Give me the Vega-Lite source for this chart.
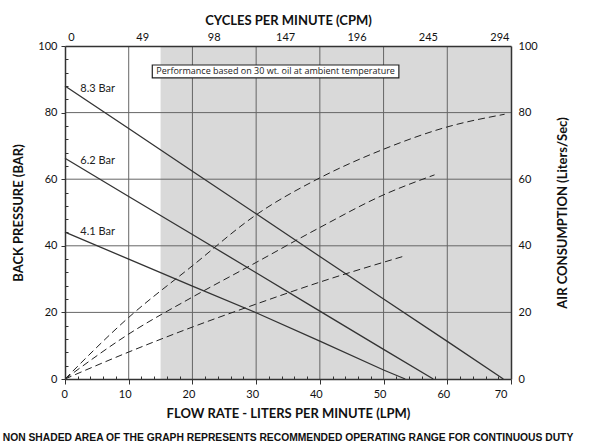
{
  "$schema": "https://vega.github.io/schema/vega-lite/v6.json",
  "width": 446,
  "height": 333,
  "autosize": "none",
  "padding": {"left": 65, "top": 46, "right": 85, "bottom": 65},
  "background": "white",
  "config": {"view": {"stroke": null}, "font": "Lato"},
  "title": {
    "text": "NON SHADED AREA OF THE GRAPH REPRESENTS RECOMMENDED OPERATING RANGE FOR CONTINUOUS DUTY",
    "orient": "bottom",
    "anchor": "middle",
    "font": "Liberation Sans",
    "fontSize": 10.3,
    "fontWeight": "bold",
    "color": "#111",
    "offset": 13
  },
  "datasets": {
    "pressure": [
      {"series": "8.3 Bar", "lpm": 0, "bp": 88.0},
      {"series": "8.3 Bar", "lpm": 10, "bp": 75.2},
      {"series": "8.3 Bar", "lpm": 20, "bp": 62.4},
      {"series": "8.3 Bar", "lpm": 30, "bp": 49.6},
      {"series": "8.3 Bar", "lpm": 40, "bp": 36.8},
      {"series": "8.3 Bar", "lpm": 50, "bp": 24.0},
      {"series": "8.3 Bar", "lpm": 60, "bp": 11.3},
      {"series": "8.3 Bar", "lpm": 68.8, "bp": 0},
      {"series": "6.2 Bar", "lpm": 0, "bp": 66.3},
      {"series": "6.2 Bar", "lpm": 10, "bp": 54.8},
      {"series": "6.2 Bar", "lpm": 20, "bp": 43.4},
      {"series": "6.2 Bar", "lpm": 30, "bp": 31.9},
      {"series": "6.2 Bar", "lpm": 40, "bp": 20.4},
      {"series": "6.2 Bar", "lpm": 50, "bp": 8.9},
      {"series": "6.2 Bar", "lpm": 57.8, "bp": 0},
      {"series": "4.1 Bar", "lpm": 0, "bp": 44.1},
      {"series": "4.1 Bar", "lpm": 10, "bp": 36.0},
      {"series": "4.1 Bar", "lpm": 20, "bp": 27.9},
      {"series": "4.1 Bar", "lpm": 30, "bp": 19.9},
      {"series": "4.1 Bar", "lpm": 40, "bp": 11.4},
      {"series": "4.1 Bar", "lpm": 50, "bp": 2.7},
      {"series": "4.1 Bar", "lpm": 53.4, "bp": 0}
    ],
    "air": [
      {"series": "8.3 Bar", "lpm": 0, "air": 0},
      {"series": "8.3 Bar", "lpm": 10, "air": 18.5},
      {"series": "8.3 Bar", "lpm": 20, "air": 34.0},
      {"series": "8.3 Bar", "lpm": 30, "air": 49.3},
      {"series": "8.3 Bar", "lpm": 40, "air": 60.4},
      {"series": "8.3 Bar", "lpm": 50, "air": 69.0},
      {"series": "8.3 Bar", "lpm": 60, "air": 75.7},
      {"series": "8.3 Bar", "lpm": 69, "air": 79.5},
      {"series": "6.2 Bar", "lpm": 0, "air": 0},
      {"series": "6.2 Bar", "lpm": 10, "air": 13.5},
      {"series": "6.2 Bar", "lpm": 20, "air": 24.6},
      {"series": "6.2 Bar", "lpm": 30, "air": 35.0},
      {"series": "6.2 Bar", "lpm": 40, "air": 45.5},
      {"series": "6.2 Bar", "lpm": 50, "air": 55.3},
      {"series": "6.2 Bar", "lpm": 58, "air": 61.3},
      {"series": "4.1 Bar", "lpm": 0, "air": 0},
      {"series": "4.1 Bar", "lpm": 10, "air": 8.1},
      {"series": "4.1 Bar", "lpm": 20, "air": 15.6},
      {"series": "4.1 Bar", "lpm": 30, "air": 22.5},
      {"series": "4.1 Bar", "lpm": 40, "air": 29.1},
      {"series": "4.1 Bar", "lpm": 53.4, "air": 37.0}
    ],
    "labels": [
      {"label": "8.3 Bar", "lpm": 2.4, "bp": 87.1},
      {"label": "6.2 Bar", "lpm": 2.4, "bp": 65.5},
      {"label": "4.1 Bar", "lpm": 2.4, "bp": 44.1}
    ]
  },
  "layer": [
    {
      "data": {"values": [{"from": 15, "to": 70}]},
      "mark": {"type": "rect", "fill": "#d9d9d9"},
      "encoding": {
        "x": {"field": "from", "type": "quantitative", "scale": {"domain": [0, 70], "nice": false}, "axis": null},
        "x2": {"field": "to"}
      }
    },
    {
      "data": {"values": [{"g": 10}, {"g": 20}, {"g": 30}, {"g": 40}, {"g": 50}, {"g": 60}]},
      "mark": {"type": "rule", "color": "#666", "strokeWidth": 1},
      "encoding": {
        "x": {"field": "g", "type": "quantitative", "scale": {"domain": [0, 70], "nice": false}, "axis": null}
      }
    },
    {
      "data": {"values": [{"h": 20}, {"h": 40}, {"h": 60}, {"h": 80}]},
      "mark": {"type": "rule", "color": "#666", "strokeWidth": 1},
      "encoding": {
        "y": {"field": "h", "type": "quantitative", "scale": {"domain": [0, 100], "nice": false}, "axis": null}
      }
    },
    {
      "data": {"values": [{"x1": 13.7, "x2": 52.4, "y1": 90.4, "y2": 94.3}]},
      "mark": {"type": "rect", "fill": "white", "stroke": "#222", "strokeWidth": 1.2},
      "encoding": {
        "x": {"field": "x1", "type": "quantitative", "scale": {"domain": [0, 70], "nice": false}, "axis": null},
        "x2": {"field": "x2"},
        "y": {"field": "y1", "type": "quantitative", "scale": {"domain": [0, 100], "nice": false}, "axis": null},
        "y2": {"field": "y2"}
      }
    },
    {
      "data": {"values": [{"lpm": 33.05, "bp": 92.35, "label": "Performance based on 30 wt.  oil at ambient temperature"}]},
      "mark": {"type": "text", "fontSize": 9, "font": "Open Sans", "color": "#222", "baseline": "middle", "align": "center"},
      "encoding": {
        "x": {"field": "lpm", "type": "quantitative", "scale": {"domain": [0, 70], "nice": false}, "axis": null},
        "y": {"field": "bp", "type": "quantitative", "scale": {"domain": [0, 100], "nice": false}, "axis": null},
        "text": {"field": "label"}
      }
    },
    {
      "data": {"name": "pressure"},
      "mark": {"type": "line", "color": "#333", "strokeWidth": 1.3},
      "encoding": {
        "x": {
          "field": "lpm", "type": "quantitative",
          "scale": {"domain": [0, 70], "nice": false},
          "axis": {
            "orient": "bottom",
            "zindex": 1,
            "title": "FLOW RATE - LITERS PER MINUTE (LPM)",
            "values": [0,2,4,6,8,10,12,14,16,18,20,22,24,26,28,30,32,34,36,38,40,42,44,46,48,50,52,54,56,58,60,62,64,66,68,70],
            "labelExpr": "datum.value % 10 === 0 ? datum.label : ''",
            "tickSize": {"condition": {"test": "datum.value % 10 === 0", "value": 5}, "value": -3},
            "grid": false,
            "domainColor": "#333", "domainWidth": 1.5,
            "tickColor": "#333",
            "labelFontSize": 11, "labelColor": "#111", "labelPadding": 4, "labelOffset": -4,
            "titleFontSize": 13, "titleFontWeight": "bold", "titleColor": "#111", "titlePadding": 8
          }
        },
        "y": {
          "field": "bp", "type": "quantitative",
          "scale": {"domain": [0, 100], "nice": false},
          "axis": {
            "orient": "left",
            "zindex": 1,
            "title": "BACK PRESSURE (BAR)",
            "values": [0,4,8,12,16,20,24,28,32,36,40,44,48,52,56,60,64,68,72,76,80,84,88,92,96,100],
            "labelExpr": "datum.value % 20 === 0 ? datum.label : ''",
            "tickSize": {"condition": {"test": "datum.value % 20 === 0", "value": 4}, "value": -3},
            "grid": false,
            "domainColor": "#333", "domainWidth": 1.5,
            "tickColor": "#333",
            "labelFontSize": 11, "labelColor": "#111", "labelPadding": 4,
            "titleFontSize": 13, "titleFontWeight": "bold", "titleColor": "#111", "titlePadding": 12
          }
        },
        "detail": {"field": "series"}
      }
    },
    {
      "data": {"name": "air"},
      "mark": {"type": "line", "color": "#222", "strokeWidth": 1, "strokeDash": [7, 4], "interpolate": "monotone"},
      "encoding": {
        "x": {"field": "lpm", "type": "quantitative", "scale": {"domain": [0, 70], "nice": false}, "axis": null},
        "y": {"field": "air", "type": "quantitative", "scale": {"domain": [0, 100], "nice": false}, "axis": null},
        "detail": {"field": "series"}
      }
    },
    {
      "data": {"name": "labels"},
      "mark": {"type": "text", "fontSize": 11, "color": "#222", "align": "left", "baseline": "middle"},
      "encoding": {
        "x": {"field": "lpm", "type": "quantitative", "scale": {"domain": [0, 70], "nice": false}, "axis": null},
        "y": {"field": "bp", "type": "quantitative", "scale": {"domain": [0, 100], "nice": false}, "axis": null},
        "text": {"field": "label"}
      }
    },
    {
      "data": {"values": [{"cpm": 0, "air": 0}]},
      "mark": {"type": "point", "opacity": 0},
      "encoding": {
        "x": {
          "field": "cpm", "type": "quantitative",
          "scale": {"domain": [-4, 302], "nice": false},
          "axis": {
            "orient": "top",
            "zindex": 1,
            "title": "CYCLES PER MINUTE (CPM)",
            "values": [0, 49, 98, 147, 196, 245, 294],
            "tickSize": 0, "grid": false,
            "domainColor": "#333", "domainWidth": 1.5,
            "labelFontSize": 11, "labelColor": "#111", "labelPadding": 4,
            "titleFontSize": 13, "titleFontWeight": "bold", "titleColor": "#111", "titlePadding": 4
          }
        },
        "y": {
          "field": "air", "type": "quantitative",
          "scale": {"domain": [0, 100], "nice": false},
          "axis": {
            "orient": "right",
            "zindex": 1,
            "title": "AIR CONSUMPTION (Liters/Sec)",
            "values": [0, 20, 40, 60, 80, 100],
            "tickSize": 0, "grid": false,
            "domainColor": "#333", "domainWidth": 1.5,
            "labelFontSize": 11, "labelColor": "#111", "labelPadding": 7,
            "titleFontSize": 13, "titleFontWeight": "bold", "titleColor": "#111", "titlePadding": 32, "titleAngle": 270
          }
        }
      }
    }
  ],
  "resolve": {"scale": {"x": "independent", "y": "independent"}}
}
